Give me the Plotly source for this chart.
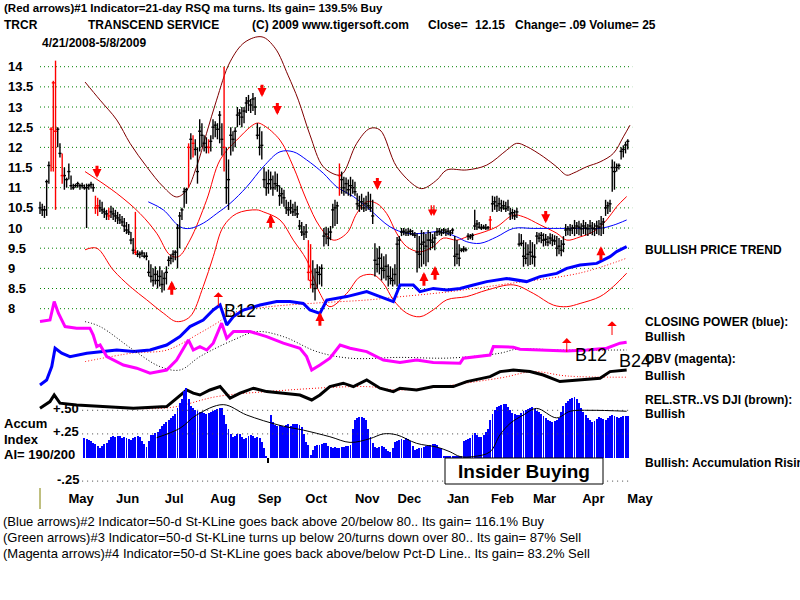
import plotly.graph_objects as go

FONT = "Liberation Sans, Arial, sans-serif"

# ---------------- data ----------------
month_labels = ["May", "Jun", "Jul", "Aug", "Sep", "Oct", "Nov", "Dec", "Jan", "Feb", "Mar", "Apr", "May"]
month_start_idx = [8, 29, 50, 72, 93, 114, 137, 156, 178, 198, 217, 239, 260]

price_levels = [8, 8.5, 9, 9.5, 10, 10.5, 11, 11.5, 12, 12.5, 13, 13.5, 14]
price_tick_labels = ["8", "8.5", "9", "9.5", "10", "10.5", "11", "11.5", "12", "12.5", "13", "13.5", "14"]

price_low = [
    10.35, 10.30, 10.25, 10.30, 11.10, 11.40, 11.40, 10.45, 12.00, 11.75,
    11.10, 10.95, 11.00, 11.20, 10.95, 10.95, 11.00, 11.00, 10.95, 10.98,
    10.95, 10.00, 10.95, 10.98, 10.90, 10.35, 10.30, 10.40, 10.35, 10.25,
    10.20, 10.20, 10.25, 10.20, 10.15, 10.10, 10.10, 10.05, 9.90, 9.85,
    9.83, 9.60, 9.35, 9.33, 9.28, 9.25, 9.28, 9.25, 9.20, 8.80,
    8.65, 8.55, 8.60, 8.50, 8.55, 8.40, 8.45, 8.60, 9.05, 9.10,
    9.15, 9.20, 9.00, 9.50, 10.20, 10.50, 10.60, 11.00, 11.70, 11.75,
    11.80, 11.10, 11.90, 12.00, 11.90, 11.85, 11.85, 11.90, 12.20, 12.25,
    12.20, 12.10, 11.80, 11.40, 10.60, 10.45, 11.80, 11.90, 12.00, 12.50,
    12.55, 12.50, 12.60, 12.85, 12.90, 12.85, 12.90, 12.80, 12.20, 11.80,
    11.70, 11.00, 10.80, 10.85, 10.95, 10.80, 10.95, 10.90, 10.55, 10.60,
    10.53, 10.35, 10.30, 10.35, 10.30, 10.30, 10.25, 9.95, 9.80, 9.70,
    9.75, 8.70, 8.50, 8.40, 8.20, 8.50, 8.60, 8.55, 9.54, 9.60,
    9.55, 9.70, 10.00, 10.05, 10.10, 10.80, 10.85, 10.80, 10.85, 10.80,
    10.78, 10.85, 10.80, 10.45, 10.40, 10.45, 10.40, 10.42, 10.45, 10.40,
    10.10, 8.80, 8.90, 8.85, 8.70, 8.75, 8.70, 8.55, 8.60, 8.55,
    8.60, 8.55, 8.60, 9.80, 9.82, 9.80, 9.80, 9.82, 9.80, 9.75,
    8.90, 9.00, 9.04, 9.10, 9.05, 9.15, 9.45, 9.50, 9.45, 9.80,
    9.82, 9.80, 9.85, 9.80, 9.82, 9.80, 9.85, 9.05, 9.10, 9.05,
    9.40, 9.40, 9.42, 9.70, 9.72, 9.70, 9.95, 9.95, 9.98, 9.95,
    9.97, 9.95, 9.96, 9.95, 10.40, 10.45, 10.40, 10.42, 10.40, 10.45,
    10.40, 10.42, 10.20, 10.22, 10.20, 10.25, 9.54, 9.55, 9.04, 9.10,
    9.05, 9.08, 9.10, 9.04, 9.60, 9.65, 9.62, 9.54, 9.56, 9.55,
    9.60, 9.55, 9.58, 9.30, 9.35, 9.30, 9.40, 9.80, 9.82, 9.80,
    9.85, 9.80, 9.85, 9.82, 9.80, 9.85, 9.82, 9.80, 9.85, 9.82,
    9.80, 9.85, 9.82, 9.80, 9.85, 10.30, 10.35, 10.40, 10.90, 10.95,
    11.40, 11.45, 11.70, 11.75, 11.85, 11.95,
]
price_high = [
    10.65, 10.60, 10.55, 11.20, 11.65, 12.50, 13.65, 14.15, 12.50, 12.10,
    11.85, 11.50, 11.25, 11.60, 11.30, 11.10, 11.10, 11.15, 11.10, 11.12,
    11.08, 11.10, 11.10, 11.15, 11.10, 10.80, 10.75, 10.70, 10.65, 10.50,
    10.45, 10.50, 10.55, 10.50, 10.45, 10.40, 10.35, 10.30, 10.25, 10.15,
    10.10, 9.90, 9.75, 10.40, 9.45, 9.42, 9.45, 9.40, 9.40, 9.20,
    9.10, 9.00, 9.05, 8.95, 9.05, 8.95, 8.90, 9.05, 9.30, 9.35,
    9.45, 9.45, 10.10, 10.40, 10.50, 11.00, 11.00, 12.10, 12.35, 12.30,
    12.20, 12.00, 12.70, 12.60, 12.30, 12.25, 12.20, 12.30, 12.70, 12.65,
    12.60, 12.90, 12.60, 14.00, 12.00, 11.70, 12.50, 12.40, 12.50, 13.00,
    12.95, 13.00, 13.00, 13.25, 13.30, 13.20, 13.35, 13.25, 12.60, 12.50,
    12.40, 11.50, 11.40, 11.45, 11.40, 11.30, 11.40, 11.35, 11.06, 11.00,
    10.95, 10.70, 10.65, 10.70, 10.60, 10.65, 10.55, 10.20, 10.15, 10.05,
    10.10, 9.70, 9.60, 9.20, 9.00, 9.10, 9.05, 9.10, 10.00, 10.03,
    10.00, 10.05, 10.60, 10.70, 10.65, 11.60, 11.40, 11.27, 11.25, 11.20,
    11.27, 11.20, 11.15, 10.86, 10.80, 10.85, 10.75, 10.80, 10.90, 10.85,
    10.70, 9.62, 9.50, 9.55, 9.37, 9.30, 9.35, 9.10, 9.05, 9.00,
    9.10, 9.78, 9.80, 10.00, 10.00, 9.98, 10.00, 9.98, 9.95, 9.90,
    9.87, 9.80, 9.95, 9.90, 9.85, 9.95, 9.90, 9.85, 9.90, 10.00,
    10.00, 9.98, 10.00, 9.98, 10.00, 9.95, 10.00, 9.80, 9.70, 9.60,
    9.50, 9.55, 9.52, 9.87, 9.85, 9.87, 10.45, 10.20, 10.15, 10.10,
    10.08, 10.10, 10.05, 10.30, 10.80, 10.78, 10.80, 10.75, 10.70, 10.68,
    10.65, 10.70, 10.50, 10.48, 10.45, 10.50, 9.87, 9.85, 9.70, 9.65,
    9.60, 9.70, 9.65, 9.60, 9.90, 9.88, 9.90, 9.87, 9.85, 9.80,
    9.87, 9.85, 9.82, 9.80, 9.75, 9.70, 9.80, 10.10, 10.05, 10.10,
    10.08, 10.20, 10.15, 10.18, 10.12, 10.20, 10.15, 10.10, 10.20, 10.15,
    10.12, 10.18, 10.20, 10.30, 10.25, 10.70, 10.65, 10.70, 11.70, 11.65,
    11.60, 11.60, 12.00, 12.05, 12.14, 12.20,
]
price_close = [
    10.50, 10.45, 10.45, 11.15, 11.55, 12.45, 13.60, 12.40, 12.45, 11.85,
    11.30, 11.30, 11.20, 11.40, 11.05, 11.00, 11.05, 11.10, 11.05, 11.05,
    11.00, 11.00, 11.05, 11.08, 11.00, 10.50, 10.55, 10.50, 10.45, 10.40,
    10.35, 10.30, 10.40, 10.35, 10.30, 10.25, 10.20, 10.15, 10.05, 9.95,
    9.90, 9.70, 9.45, 9.40, 9.35, 9.35, 9.38, 9.30, 9.30, 8.90,
    8.80, 8.70, 8.85, 8.70, 8.80, 8.60, 8.75, 8.90, 9.20, 9.25,
    9.35, 9.40, 10.00, 10.30, 10.45, 10.90, 10.95, 12.00, 12.20, 12.10,
    11.95, 11.40, 12.40, 12.30, 12.10, 12.00, 12.00, 12.15, 12.50, 12.55,
    12.45, 12.80, 12.20, 12.00, 11.00, 11.20, 12.30, 12.20, 12.40, 12.80,
    12.85, 12.75, 12.90, 13.10, 13.15, 13.05, 13.20, 13.00, 12.30, 12.00,
    12.05, 11.20, 11.00, 11.10, 11.20, 11.00, 11.10, 11.05, 10.80, 10.85,
    10.75, 10.50, 10.45, 10.50, 10.40, 10.45, 10.35, 10.05, 9.90, 9.85,
    9.90, 8.90, 8.70, 8.60, 8.50, 8.90, 8.85, 9.00, 9.80, 9.85,
    9.75, 9.90, 10.45, 10.50, 10.55, 11.30, 11.20, 11.00, 11.10, 10.95,
    11.05, 11.00, 10.90, 10.60, 10.55, 10.65, 10.50, 10.60, 10.55, 10.50,
    10.30, 9.20, 9.10, 9.25, 9.00, 8.95, 9.05, 8.80, 8.75, 8.70,
    8.85, 9.60, 9.70, 9.90, 9.92, 9.88, 9.90, 9.92, 9.85, 9.82,
    9.40, 9.35, 9.60, 9.65, 9.55, 9.70, 9.70, 9.65, 9.75, 9.90,
    9.92, 9.88, 9.95, 9.90, 9.92, 9.88, 9.95, 9.30, 9.35, 9.25,
    9.45, 9.48, 9.46, 9.80, 9.78, 9.82, 10.05, 10.10, 10.02, 10.00,
    10.02, 10.00, 10.01, 10.20, 10.60, 10.65, 10.55, 10.60, 10.50, 10.55,
    10.48, 10.52, 10.35, 10.38, 10.30, 10.40, 9.60, 9.62, 9.30, 9.25,
    9.35, 9.40, 9.30, 9.28, 9.80, 9.75, 9.82, 9.70, 9.72, 9.65,
    9.75, 9.70, 9.68, 9.50, 9.55, 9.45, 9.60, 9.95, 9.98, 9.95,
    10.00, 10.00, 10.05, 10.02, 9.98, 10.05, 10.00, 9.98, 10.05, 10.00,
    9.98, 10.05, 10.02, 10.10, 10.15, 10.50, 10.55, 10.60, 11.50, 11.40,
    11.50, 11.55, 11.90, 11.95, 12.06, 12.15,
]
red_bars = [5, 6, 7, 10, 25, 26, 31, 43, 67, 69, 76, 83, 121, 122, 135, 203]

# Bollinger-type bands (trading-day index, price)
outer_band_x = [20.3, 27.1, 34.6, 40.6, 48.1, 55.6, 61.6, 66.1, 70.6, 75.1, 79.6, 85.7, 92.4, 100.1, 106.0,
                111.8, 116.5, 121.7, 127.7, 134.5, 136.7, 142.8, 148.8, 153.3, 160.8, 169.8, 172.8, 178.9,
                183.4, 192.4, 201.4, 210.4, 214.9, 219.4, 226.9, 232.9, 237.5, 240.4, 246.5, 252.5, 258.5,
                263.0, 266.0]
outer_band_y = [13.62, 13.17, 12.68, 12.10, 11.52, 11.02, 10.77, 10.94, 11.52, 12.35, 13.17, 14.12, 14.61,
                14.74, 14.46, 13.79, 13.17, 12.31, 11.52, 11.31, 11.36, 12.10, 12.47, 12.43, 11.52, 11.02,
                10.98, 11.19, 11.44, 11.44, 11.56, 11.93, 12.10, 12.02, 11.77, 11.52, 11.31, 11.36, 11.52,
                11.64, 11.85, 12.26, 12.55]
upper_band_x = [20.3, 34.6, 45.1, 52.6, 58.6, 62.4, 67.6, 75.1, 81.2, 88.7, 97.7, 100.7, 108.2, 114.2, 120.2,
                126.2, 132.2, 138.3, 142.8, 147.3, 151.8, 156.3, 160.8, 165.3, 171.3, 177.3, 181.8, 187.9,
                192.4, 198.4, 205.9, 213.4, 217.9, 225.4, 233.0, 237.5, 243.5, 249.5, 255.5, 260.0, 264.5]
upper_band_y = [11.40, 10.86, 10.36, 9.87, 9.33, 9.29, 9.70, 10.69, 11.69, 12.18, 12.60, 12.55, 12.18, 11.52,
                10.69, 10.03, 9.70, 9.87, 10.36, 10.65, 10.61, 10.36, 9.87, 9.54, 9.41, 9.54, 9.75, 9.70,
                9.78, 9.87, 10.03, 10.32, 10.28, 10.08, 9.87, 9.70, 9.78, 9.91, 10.20, 10.53, 10.78]
lower_band_x = [20.3, 25.6, 33.0, 40.6, 48.1, 55.6, 61.6, 67.6, 73.6, 78.1, 82.6, 88.7, 97.7, 100.7, 108.2,
                114.2, 120.2, 126.2, 130.7, 138.3, 144.3, 150.3, 154.8, 159.3, 165.3, 171.3, 177.3, 183.4,
                192.4, 201.4, 213.4, 222.4, 231.4, 237.5, 243.5, 252.5, 258.5, 264.5]
lower_band_y = [9.46, 9.50, 8.96, 8.55, 8.22, 7.89, 7.68, 7.80, 8.55, 9.29, 10.03, 10.36, 10.45, 10.40, 10.20,
                9.70, 9.21, 8.38, 8.05, 8.38, 8.79, 8.84, 8.63, 8.22, 7.89, 7.80, 7.97, 8.22, 8.30, 8.46,
                8.59, 8.38, 8.09, 8.05, 8.13, 8.30, 8.55, 8.88]
ma50_x = [48.8, 55.6, 63.1, 67.6, 73.6, 79.7, 85.7, 93.2, 100.7, 108.2, 114.2, 120.2, 127.7, 133.8, 141.3,
          148.8, 157.8, 165.3, 172.8, 180.3, 187.9, 192.4, 198.4, 205.9, 213.4, 222.4, 231.4, 243.5, 252.5,
          258.5, 264.5]
ma50_y = [10.65, 10.45, 10.03, 9.99, 10.12, 10.36, 10.61, 11.02, 11.52, 11.89, 11.89, 11.69, 11.36, 11.02,
          10.78, 10.45, 10.03, 9.87, 9.87, 9.91, 9.78, 9.66, 9.62, 9.78, 9.99, 9.99, 9.99, 9.99, 9.99, 10.07,
          10.20]

# Closing Power (blue) and its MA
cp_x = [0, 3.0, 5.3, 6.8, 9.8, 13.5, 21.1, 27.1, 34.6, 42.1, 49.6, 57.1, 63.1, 67.6, 73.6, 78.1, 81.2, 84.2,
        87.2, 91.7, 99.2, 106.7, 112.7, 118.7, 121.7, 126.2, 129.3, 138.3, 147.3, 153.3, 159.3, 162.3, 168.3,
        171.3, 177.3, 183.4, 189.4, 195.4, 201.4, 210.4, 219.4, 225.4, 233.0, 237.5, 243.5, 251.0, 257.0,
        260.0, 264.5]
cp_v = [7.5, 10, 16.7, 25.9, 23.4, 21.7, 23.4, 24.2, 25, 24.2, 25, 27.5, 31.7, 36.7, 40, 45, 47.5, 37.5, 41.7,
        45, 47.5, 49.2, 49.2, 48.3, 45, 43.3, 50, 51.7, 54.2, 51.7, 49.2, 57.5, 57.5, 54.2, 55.8, 55, 55.8,
        57.5, 59.2, 60.8, 59.2, 61.7, 63.3, 65.8, 67.5, 68.3, 71.7, 74.2, 76.7]
cp_ma_x = [20.3, 41.9, 57.3, 72.1, 79.8, 87.0, 102.3, 124.9, 147.4, 161.0, 183.5, 213.3, 243.5, 264.7]
cp_ma_v = [19.2, 23.5, 25, 33.5, 38.5, 43.5, 46.5, 48.5, 50, 51.5, 54, 58.5, 63.5, 71]

# OBV (magenta) and its MA
obv_x = [0, 4.5, 6.4, 8.3, 11.3, 16.5, 22.5, 24.0, 25.6, 27.1, 30.1, 33.0, 37.6, 43.6, 49.6, 57.1, 61.6, 66.9,
         69.1, 72.1, 75.2, 78.1, 81.9, 84.2, 87.2, 94.7, 102.2, 109.7, 117.2, 120.2, 122.5, 126.2, 130.7,
         135.3, 139.8, 147.3, 154.8, 162.3, 169.8, 177.3, 189.4, 190.9, 202.9, 204.4, 213.4, 216.4, 229.9,
         237.5, 246.5, 255.5, 261.5, 264.5]
obv_v = [29.2, 30, 39.2, 33.4, 26.7, 25.9, 25.9, 22.5, 16.7, 17.5, 11.7, 10, 7.5, 5.9, 3.4, 5, 10, 20, 15,
         16.7, 15, 18.4, 28.4, 20.9, 24.2, 24.2, 21.7, 18.4, 15.9, 11.7, 5, 7.5, 10.9, 17.5, 15.9, 14.2, 10,
         8.8, 10, 8.7, 8.4, 10.9, 12.5, 16.7, 16.4, 15.4, 15, 14.5, 15, 15.9, 18.4, 18.9]
obv_ma_x = [20.3, 27.1, 42.1, 54.1, 63.1, 72.1, 87.2, 97.7, 109.7, 124.8, 139.8, 162.3, 184.9, 207.4, 214.9,
            234.4, 264.5]
obv_ma_v = [29.2, 26.7, 15, 6.7, 5, 11.7, 20, 24.2, 21.7, 14.2, 10.9, 11.3, 11, 13.4, 15.4, 15, 15]

# Relative strength vs DJI (black) and its MA
rs_x = [0, 4.5, 6.4, 9.0, 16.5, 27.1, 42.1, 57.1, 63.1, 66.1, 69.1, 72.1, 76.6, 81.2, 85.7, 90.2, 96.2, 102.2,
        109.7, 117.2, 122.5, 126.2, 130.7, 136.7, 141.3, 147.3, 153.3, 159.3, 162.3, 169.8, 177.3, 186.3,
        192.4, 202.9, 207.4, 213.4, 220.9, 226.9, 234.4, 243.5, 252.5, 257.0, 264.5]
rs_v = [5.9, 9.2, 12.5, 8.4, 7.5, 6.7, 5.9, 6.7, 12.5, 15, 13.4, 12.5, 15, 16.7, 10.9, 13.4, 15.9, 14.2, 13.4,
        12.5, 10, 12.5, 16.7, 18.4, 16.7, 20, 15.9, 14.2, 15.9, 15, 16.7, 16.7, 19.2, 21.7, 24.2, 25, 24.2,
        22.5, 19.2, 20, 20.9, 24.2, 25]
rs_ma_x = [18.0, 57.1, 79.7, 102.2, 147.3, 162.3, 207.4, 222.3, 237.6, 264.7]
rs_ma_v = [7.5, 6, 11.7, 14.2, 16.7, 15, 21, 24.2, 22, 21.4]

# Accumulation Index (daily, starting at trading day 20)
ai_start = 20
ai_values = [
    .21, .20, .19, .17, .15, .14, .12, .10, .12, .14,
    .15, .19, .22, .23, .22, .23, .23, .21, .22, .21,
    .20, .19, .21, .22, .23, .22, .18, .14, .11, .18,
    .24, .24, .26, .27, .30, .33, .35, .38, .40, .42,
    .44, .46, .52, .58, .62, .70, .74, .62, .55, .52,
    .50, .49, .48, .48, .47, .46, .47, .48, .49, .50,
    .51, .52, .52, .45, .36, .30, .25, .22, .23, .25,
    .25, .22, .20, .21, .23, .24, .23, .21, .22, .21,
    .16, .10, .02, -.06, .45, .38, .34, .33, .34, .33,
    .32, .34, .35, .33, .35, .36, .35, .34, .32, .25,
    .16, .13, .03, .08, .12, .13, .13, .14, .15, .15,
    .12, .11, .10, .11, .10, .10, .11, .11, .12, .12,
    .13, .30, .40, .42, .43, .43, .42, .40, .30, .22,
    .15, .11, .10, .11, .12, .11, .09, .07, .06, .10,
    .16, .18, .19, .20, .19, .21, .20, .18, .12, .08,
    .09, .10, .10, .11, .12, .12, .13, .14, .14, .13,
    .10, .10, .02, .01, .01, .01, .01, .01, .01, .01,
    .01, .18, .19, .20, .21, .24, .26, .24, .22, .22,
    .24, .27, .30, .40, .46, .50, .53, .55, .56, .57,
    .57, .54, .50, .47, .46, .45, .45, .47, .49, .50,
    .51, .52, .53, .51, .49, .48, .46, .44, .42, .40,
    .39, .38, .39, .40, .42, .48, .55, .58, .60, .62,
    .63, .64, .62, .58, .52, .48, .45, .42, .40, .38,
    .39, .41, .43, .42, .41, .40, .42, .44, .45, .44,
    .43, .42, .43, .44, .44, .44,
]
ai_ma_x = [52.6, 63.1, 70.6, 82.6, 93.2, 108.2, 118.7, 130.7, 139.8, 148.8, 154.8, 160.8, 169.8, 178.9, 184.9,
           189.4, 195.4, 202.9, 207.4, 211.9, 217.9, 223.9, 232.9, 239.0, 248.0, 264.5]
ai_ma_v = [0.21, 0.31, 0.45, 0.56, 0.45, 0.34, 0.29, 0.22, 0.16, 0.20, 0.25, 0.24, 0.15, 0.11, 0.06, 0.01,
           0.01, 0.06, 0.24, 0.36, 0.45, 0.52, 0.42, 0.49, 0.50, 0.49]
ai_levels = [0.5, 0.25, -0.25]
ai_level_labels = ["+.50", "+.25", "-.25"]

# Signal arrows (trading-day index, price at arrow tip)
sell_arrow_x = [25.7, 100.1, 107.0, 152.1, 228.0]
sell_arrow_y = [11.24, 13.25, 12.80, 10.94, 10.12]
double_sell_x = [177.0]
double_sell_y = [10.30]
buy_arrow_x = [59.4, 104.0, 126.2, 173.1, 178.1, 252.9]
buy_arrow_y = [8.69, 10.35, 7.92, 8.91, 9.06, 9.55]
thin_buy_x = [80.4, 237.5, 257.9]
thin_buy_y = [8.41, 7.27, 7.69]
b_labels = ["B12", "B12", "B24"]
b_label_x = [82.1, 240.3, 260.1]
b_label_y = [7.94, 6.85, 6.70]

# ---------------- figure ----------------
W, H = 800, 600
X0_PX, PX_PER_DAY = 40.0, 2.218
x_range = [(0 - X0_PX) / PX_PER_DAY, (W - X0_PX) / PX_PER_DAY]

fig = go.Figure()

# price grid lines
gx, gy = [], []
for lv in price_levels:
    gx += [0, 267, None]
    gy += [lv, lv, None]
fig.add_trace(go.Scatter(x=gx, y=gy, mode="lines", line=dict(color="#008000", width=1, dash="1px,3px"),
                         hoverinfo="skip", yaxis="y"))

# AI dotted lines
ax_, ay_ = [], []
for lv in ai_levels:
    ax_ += [19, 266, None]
    ay_ += [lv, lv, None]
fig.add_trace(go.Scatter(x=ax_, y=ay_, mode="lines", line=dict(color="#444444", width=1, dash="1px,4px"),
                         hoverinfo="skip", yaxis="y5"))

# bands
fig.add_trace(go.Scatter(x=outer_band_x, y=outer_band_y, mode="lines", line=dict(color="#800000", width=1, shape="spline"), yaxis="y"))
fig.add_trace(go.Scatter(x=upper_band_x, y=upper_band_y, mode="lines", line=dict(color="#FF0000", width=1, shape="spline"), yaxis="y"))
fig.add_trace(go.Scatter(x=lower_band_x, y=lower_band_y, mode="lines", line=dict(color="#FF0000", width=1, shape="spline"), yaxis="y"))
fig.add_trace(go.Scatter(x=ma50_x, y=ma50_y, mode="lines", line=dict(color="#0000FF", width=1, shape="spline"), yaxis="y"))


def bar_segments(indices):
    xs, ys = [], []
    for i in indices:
        xs += [i, i, None, i - 0.7, i + 0.7, None]
        ys += [price_low[i], price_high[i], None, price_close[i], price_close[i], None]
    return xs, ys


red_set = set(red_bars)
bx, by = bar_segments([i for i in range(len(price_close)) if i not in red_set])
fig.add_trace(go.Scatter(x=bx, y=by, mode="lines", line=dict(color="black", width=1.4), yaxis="y"))
rx, ry = bar_segments(red_bars)
fig.add_trace(go.Scatter(x=rx, y=ry, mode="lines", line=dict(color="#FF0000", width=1.4), yaxis="y"))

# indicators
fig.add_trace(go.Scatter(x=cp_ma_x, y=cp_ma_v, mode="lines", line=dict(color="#FF0000", width=1, dash="1px,2px", shape="spline"), yaxis="y2"))
fig.add_trace(go.Scatter(x=cp_x, y=cp_v, mode="lines", line=dict(color="#0000FF", width=3), yaxis="y2"))
fig.add_trace(go.Scatter(x=obv_ma_x, y=obv_ma_v, mode="lines", line=dict(color="black", width=1, dash="1px,2px", shape="spline"), yaxis="y3"))
fig.add_trace(go.Scatter(x=obv_x, y=obv_v, mode="lines", line=dict(color="#FF00FF", width=3), yaxis="y3"))
fig.add_trace(go.Scatter(x=rs_ma_x, y=rs_ma_v, mode="lines", line=dict(color="#FF0000", width=1, dash="1px,2px", shape="spline"), yaxis="y4"))
fig.add_trace(go.Scatter(x=rs_x, y=rs_v, mode="lines", line=dict(color="black", width=3), yaxis="y4"))

ai_x = [ai_start + k for k in range(len(ai_values))]
ai_colors = ["#0000FF" if v >= 0 else "black" for v in ai_values]
fig.add_trace(go.Bar(x=ai_x, y=ai_values, width=0.42, marker=dict(color=ai_colors, line=dict(width=0)), yaxis="y5"))
fig.add_trace(go.Scatter(x=ai_ma_x, y=ai_ma_v, mode="lines", line=dict(color="black", width=1, shape="spline"), yaxis="y5"))

# ---------------- annotations ----------------
ann = []


def txt(x, y, s, size=12, bold=True, anchor="left", color="black"):
    t = "<b>%s</b>" % s if bold else s
    ann.append(dict(x=x / W, y=1 - y / H, xref="paper", yref="paper", text=t, showarrow=False,
                    xanchor=anchor, yanchor="middle", font=dict(family=FONT, size=size, color=color)))


txt(2, 8, "(Red arrows)#1 Indicator=21-day RSQ ma turns. Its gain= 139.5% Buy", size=11.5)
txt(2, 25, "TRCR")
txt(86, 25, "TRANSCEND SERVICE")
txt(250, 25, "(C) 2009 www.tigersoft.com")
txt(426, 25, "Close=")
txt(473, 25, "12.15")
txt(513, 25, "Change= .09 Volume= 25")
txt(40, 43, "4/21/2008-5/8/2009")

txt(643, 250, "BULLISH PRICE TREND")
txt(643, 322, "CLOSING POWER (blue):")
txt(643, 337, "Bullish")
txt(643, 359, "OBV (magenta):")
txt(643, 376, "Bullish")
txt(643, 400, "REL.STR..VS DJI (brown):")
txt(643, 414, "Bullish")
txt(643, 463, "Bullish: Accumulation Rising")

txt(2, 423, "Accum", size=13)
txt(2, 439, "Index", size=13)
txt(2, 454, "AI= 190/200", size=13)

txt(1, 521, "(Blue arrows)#2 Indicator=50-d St-KLine goes back above 20/below 80.. Its gain= 116.1% Buy", size=13, bold=False)
txt(1, 537, "(Green arrows)#3 Indicator=50-d St-KLine turns up below 20/turns down over 80.. Its gain= 87% Sell", size=13, bold=False)
txt(1, 553, "(Magenta arrows)#4 Indicator=50-d St-KLine goes back above/below Pct-D Line.. Its gain= 83.2% Sell", size=13, bold=False)

# price labels
for lv, lab in zip(price_levels, price_tick_labels):
    ann.append(dict(x=6 / W, y=lv, xref="paper", yref="y", text="<b>%s</b>" % lab, showarrow=False,
                    xanchor="left", yanchor="middle", font=dict(family=FONT, size=13, color="black")))
# AI level labels
for lv, lab in zip(ai_levels, ai_level_labels):
    ann.append(dict(x=81 / W, y=lv, xref="paper", yref="y5", text="<b>%s</b>" % lab, showarrow=False,
                    xanchor="right", yanchor="middle", yshift=2, font=dict(family=FONT, size=13, color="black")))

# arrows
for x, y in zip(sell_arrow_x, sell_arrow_y):
    ann.append(dict(x=x, y=y, ax=x, ay=y + 0.34, xref="x", yref="y", axref="x", ayref="y", text="",
                    showarrow=True, arrowhead=2, arrowsize=0.6, arrowwidth=3, arrowcolor="#FF0000"))
for x, y in zip(double_sell_x, double_sell_y):
    for dx in (-0.6, 0.6):
        ann.append(dict(x=x + dx, y=y, ax=x + dx, ay=y + 0.3, xref="x", yref="y", axref="x", ayref="y", text="",
                        showarrow=True, arrowhead=2, arrowsize=1.0, arrowwidth=1.3, arrowcolor="#FF0000"))
for x, y in zip(buy_arrow_x, buy_arrow_y):
    ann.append(dict(x=x, y=y, ax=x, ay=y - 0.38, xref="x", yref="y", axref="x", ayref="y", text="",
                    showarrow=True, arrowhead=2, arrowsize=0.6, arrowwidth=3, arrowcolor="#FF0000"))
for x, y in zip(thin_buy_x, thin_buy_y):
    ann.append(dict(x=x, y=y, ax=x, ay=y - 0.38, xref="x", yref="y", axref="x", ayref="y", text="",
                    showarrow=True, arrowhead=1, arrowsize=1.6, arrowwidth=1, arrowcolor="#FF0000"))
for lab, x, y in zip(b_labels, b_label_x, b_label_y):
    ann.append(dict(x=x, y=y, xref="x", yref="y", text=lab, showarrow=False, xanchor="left", yanchor="middle",
                    font=dict(family=FONT, size=18, color="black")))

# Insider buying label
ann.append(dict(x=524 / W, y=1 - 471 / H, xref="paper", yref="paper", text="<b>Insider Buying</b>",
                showarrow=False, xanchor="center", yanchor="middle", font=dict(family=FONT, size=19, color="black")))

shapes = [
    dict(type="rect", xref="paper", yref="paper", x0=445 / W, x1=603 / W, y0=1 - 484 / H, y1=1 - 458 / H,
         line=dict(color="black", width=1), fillcolor="white", layer="above"),
    dict(type="line", xref="paper", yref="paper", x0=40 / W, x1=40 / W, y0=1 - 488 / H, y1=1 - 509 / H,
         line=dict(color="#808000", width=1)),
]

# axis ranges (value <-> page pixel)
price_range = [14 - (H - 66.7) / 40.33, 14 + 66.7 / 40.33]
cp_range = [(400 - H) / 2, 400 / 2]
obv_range = [(380 - H) / 2, 380 / 2]
rs_range = [(420 - H) / 2, 420 / 2]
ai_range = [(457.5 - H) / 94.4, 457.5 / 94.4]

hidden = dict(visible=False, showgrid=False, zeroline=False, fixedrange=True)
fig.update_layout(
    width=W, height=H, margin=dict(l=0, r=0, t=0, b=0), autosize=False,
    paper_bgcolor="white", plot_bgcolor="white", showlegend=False, bargap=0,
    xaxis=dict(range=x_range, domain=[0, 1], showgrid=False, zeroline=False, showline=False,
               tickvals=[m + 10.5 for m in month_start_idx],
               ticktext=["<b>%s</b>" % m for m in month_labels], ticks="",
               tickfont=dict(family=FONT, size=13, color="black"),
               anchor="free", position=1 - 489 / H),
    yaxis=dict(range=price_range, domain=[0, 1], **hidden),
    yaxis2=dict(range=cp_range, overlaying="y", **hidden),
    yaxis3=dict(range=obv_range, overlaying="y", **hidden),
    yaxis4=dict(range=rs_range, overlaying="y", **hidden),
    yaxis5=dict(range=ai_range, overlaying="y", **hidden),
    annotations=ann, shapes=shapes,
)

fig.write_html("out.html")
